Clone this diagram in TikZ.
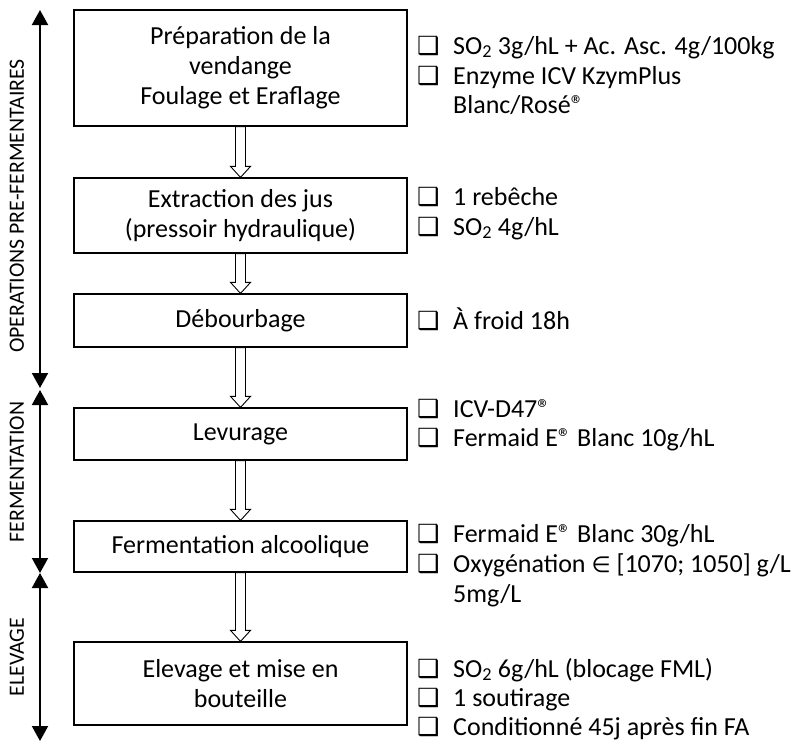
\documentclass[tikz,border=0pt]{standalone}
\usepackage{fontspec}
\setmainfont{Carlito}
\newfontfamily\dejavu{DejaVu Sans}
\usetikzlibrary{arrows.meta}
\tikzset{
  box/.style={draw, line width=1.2pt, inner sep=0pt, align=center, minimum width=333pt, font=\fontsize{26}{30}\selectfont},
  rtext/.style={anchor=base west, inner sep=0pt, font=\fontsize{26}{30}\selectfont},
  chk/.style={anchor=base west, inner sep=0pt, font=\dejavu\fontsize{25}{30}\selectfont},
  hollow/.style={draw, line width=0.9pt, fill=white, line join=miter},
  phase/.style={line width=2pt, {Triangle[width=16pt,length=15pt]}-{Triangle[width=16pt,length=15pt]}},
  plabel/.style={rotate=90, inner sep=0pt, font=\fontsize{21.8}{24}\selectfont}
}
\newcommand\harrow[2]{%
  \draw[hollow] ([xshift=-5pt]#1.south) -- ([xshift=-5pt,yshift=11pt]#2.north)
    -- ([xshift=-10pt,yshift=11pt]#2.north) -- (#2.north)
    -- ([xshift=10pt,yshift=11pt]#2.north) -- ([xshift=5pt,yshift=11pt]#2.north)
    -- ([xshift=5pt]#1.south) -- cycle;}
\begin{document}
\begin{tikzpicture}[x=1pt,y=-1pt]
\useasboundingbox (0,0) rectangle (801,742);
% boxes
\node[box, minimum height=116pt] (b1) at (240.5,68) {Préparation de la\\vendange\\Foulage et Eraflage};
\node[box, minimum height=75pt] (b2) at (240.5,215.5) {Extraction des jus\\(pressoir hydraulique)};
\node[box, minimum height=53pt] (b3) at (240.5,320.5) {Débourbage};
\node[box, minimum height=52pt] (b4) at (240.5,434) {Levurage};
\node[box, minimum height=51pt] (b5) at (240.5,546.5) {Fermentation alcoolique};
\node[box, minimum height=83pt] (b6) at (240.5,683.5) {Elevage et mise en\\bouteille};
% hollow arrows
\harrow{b1}{b2}
\harrow{b2}{b3}
\harrow{b3}{b4}
\harrow{b4}{b5}
\harrow{b5}{b6}
% phase arrows
\coordinate (p1a) at (40,10);
\coordinate (p1b) at (40,388);
\coordinate (p2a) at (40,390);
\coordinate (p2b) at (40,573);
\coordinate (p3a) at (40,573);
\coordinate (p3b) at (40,741);
\draw[phase] (p1a) -- (p1b);
\draw[phase] (p2a) -- (p2b);
\draw[phase] (p3a) -- (p3b);
\node[plabel] (l1) at (17,206) {OPERATIONS PRE-FERMENTAIRES};
\node[plabel] (l2) at (17,472) {FERMENTATION};
\node[plabel] (l3) at (17,657) {ELEVAGE};
% right texts
\node[chk] (c11) at (417,54) {❑};
\node[rtext] (t11) at (453,54) {SO\textsubscript{2} 3g/hL + Ac. Asc. 4g/100kg};
\node[chk] (c12) at (417,84) {❑};
\node[rtext] (t12) at (453,84) {Enzyme ICV KzymPlus};
\node[rtext] (t13) at (453,113) {Blanc/Rosé®};
\node[chk] (c21) at (417,205) {❑};
\node[rtext] (t21) at (453,205) {1 rebêche};
\node[chk] (c22) at (417,235) {❑};
\node[rtext] (t22) at (453,235) {SO\textsubscript{2} 4g/hL};
\node[chk] (c31) at (417,329) {❑};
\node[rtext] (t31) at (453,329) {À froid 18h};
\node[chk] (c41) at (417,417) {❑};
\node[rtext] (t41) at (453,417) {ICV-D47®};
\node[chk] (c42) at (417,446) {❑};
\node[rtext] (t42) at (453,446) {Fermaid E® Blanc 10g/hL};
\node[chk] (c51) at (417,542) {❑};
\node[rtext] (t51) at (453,542) {Fermaid E® Blanc 30g/hL};
\node[chk] (c52) at (417,572) {❑};
\node[rtext] (t52) at (453,572) {Oxygénation {\dejavu\fontsize{22}{30}\selectfont ∈} [1070; 1050] g/L};
\node[rtext] (t53) at (453,602) {5mg/L};
\node[chk] (c61) at (417,677) {❑};
\node[rtext] (t61) at (453,677) {SO\textsubscript{2} 6g/hL (blocage FML)};
\node[chk] (c62) at (417,706) {❑};
\node[rtext] (t62) at (453,706) {1 soutirage};
\node[chk] (c63) at (417,735) {❑};
\node[rtext] (t63) at (453,735) {Conditionné 45j après fin FA};
\end{tikzpicture}
\end{document}
